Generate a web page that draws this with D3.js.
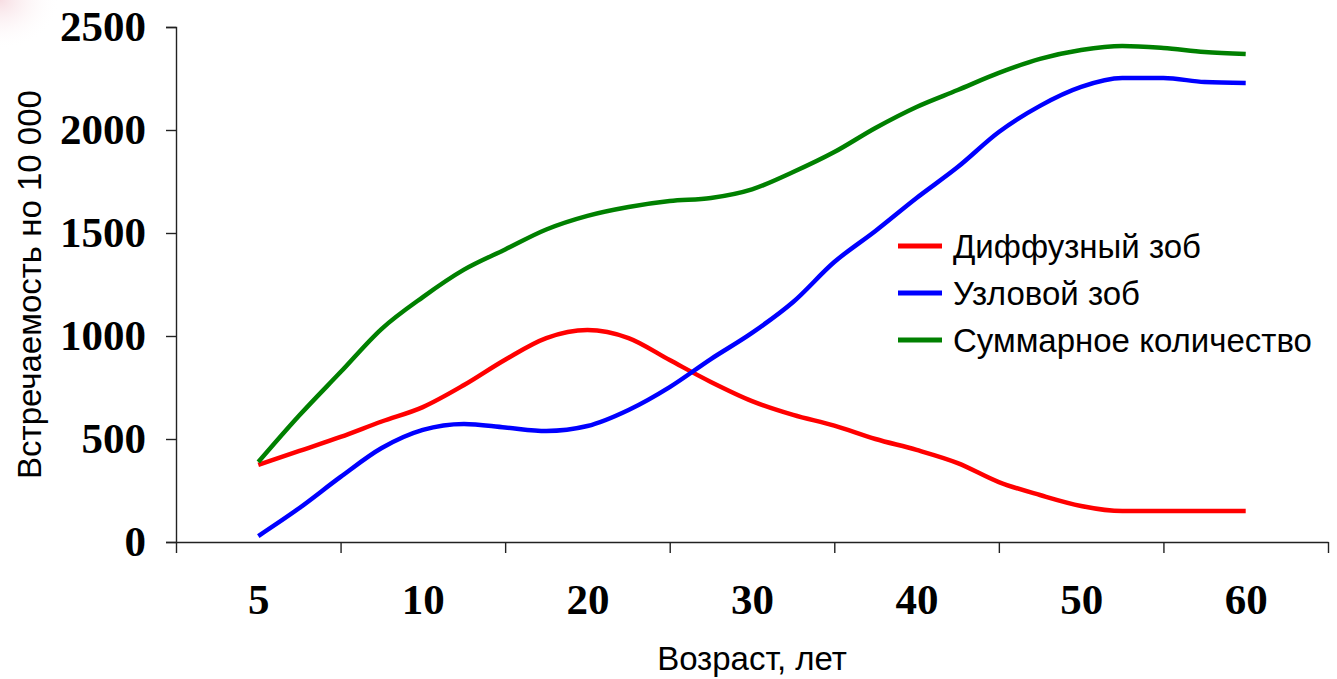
<!DOCTYPE html>
<html>
<head>
<meta charset="utf-8">
<script src="https://cdn.jsdelivr.net/npm/d3@7"></script>
<style>
  html, body { margin: 0; padding: 0; background: #fff; }
  svg { display: block; }
</style>
</head>
<body>
<svg id="chart" width="1337" height="679"></svg>
<script>
// ---- Data ----
const ageLabels = ["5", "10", "20", "30", "40", "50", "60"];
const seriesNames = ["Диффузный зоб", "Узловой зоб", "Суммарное количество"];
const diffuse = [374, 442, 510, 585, 655, 762, 885, 990, 1029, 990, 883, 777, 684,
                 617, 565, 500, 447, 383, 291, 228, 175, 150, 150, 150, 150];
const nodular = [29, 165, 316, 456, 544, 573, 556, 539, 563, 641, 752, 888, 1015,
                 1165, 1359, 1510, 1670, 1820, 1990, 2117, 2209, 2252, 2252, 2233, 2228];
const total = [388, 615, 825, 1035, 1189, 1322, 1420, 1517, 1583, 1626, 1655, 1670, 1712,
               1796, 1893, 2010, 2112, 2194, 2277, 2345, 2388, 2408, 2398, 2379, 2369];
const yTicks = [0, 500, 1000, 1500, 2000, 2500];
const colors = ["#FF0000", "#0000FF", "#008000"];

const svg = d3.select("#chart");
const pLeft = 176, pRight = 1328, pTop = 27, pBottom = 542;
const stepsPerLabel = 4;
const nPts = diffuse.length;
const serif = "'Liberation Serif', 'Times New Roman', serif";
const sans = "'Liberation Sans', Arial, sans-serif";

// index domain: half a label interval padding each side
const x = d3.scaleLinear()
  .domain([-stepsPerLabel / 2, (nPts - 1) + stepsPerLabel / 2])
  .range([pLeft, pRight]);
const y = d3.scaleLinear().domain([0, 2500]).range([pBottom, pTop]);

// top-left faint pink glow (slide background)
const defs = svg.append("defs");
const rg = defs.append("radialGradient").attr("id", "glow").attr("cx", "0").attr("cy", "0").attr("r", "1");
rg.append("stop").attr("offset", "0").attr("stop-color", "#f6d9df").attr("stop-opacity", 0.9);
rg.append("stop").attr("offset", "1").attr("stop-color", "#ffffff").attr("stop-opacity", 0);
svg.append("rect").attr("x", 0).attr("y", 0).attr("width", 60).attr("height", 50).attr("fill", "url(#glow)");

// Y axis
const yAxis = svg.append("g")
  .attr("transform", `translate(${pLeft},0)`)
  .call(d3.axisLeft(y).tickValues(yTicks).tickSize(10).tickPadding(20).tickFormat(d3.format("d")));
yAxis.select(".domain").attr("stroke", "#222").attr("stroke-width", 1.4);
yAxis.selectAll(".tick line").attr("stroke", "#222").attr("stroke-width", 1.4);
yAxis.selectAll(".tick text")
  .attr("fill", "#000")
  .style("font-family", serif)
  .style("font-weight", "bold")
  .style("font-size", "43px");

// X axis: tick marks between labels
const tickIdx = d3.range(-stepsPerLabel / 2, nPts + stepsPerLabel / 2, stepsPerLabel);
const xAxis = svg.append("g")
  .attr("transform", `translate(0,${pBottom})`)
  .call(d3.axisBottom(x).tickValues(tickIdx).tickSize(11).tickSizeOuter(0).tickFormat(""));
xAxis.select(".domain").attr("stroke", "#222").attr("stroke-width", 1.4);
xAxis.selectAll(".tick line").attr("stroke", "#222").attr("stroke-width", 1.4);

// X labels at every 4th data point
const labelIdx = ageLabels.map((d, i) => i * stepsPerLabel);
const xLab = svg.append("g")
  .attr("transform", `translate(0,${pBottom})`)
  .call(d3.axisBottom(x).tickValues(labelIdx).tickSize(0).tickPadding(41)
    .tickFormat((d) => ageLabels[d / stepsPerLabel]));
xLab.select(".domain").remove();
xLab.selectAll(".tick text")
  .attr("fill", "#000")
  .style("font-family", serif)
  .style("font-weight", "bold")
  .style("font-size", "43px");

// Axis titles
svg.append("text")
  .attr("x", 752).attr("y", 670)
  .attr("text-anchor", "middle")
  .style("font-family", sans)
  .style("font-size", "33px")
  .text("Возраст, лет");

svg.append("text")
  .attr("transform", `translate(41,${(pTop + pBottom) / 2}) rotate(-90)`)
  .attr("text-anchor", "middle")
  .style("font-family", sans)
  .style("font-size", "33px")
  .text("Встречаемость но 10 000");

// Lines
const line = d3.line()
  .x((d, i) => x(i))
  .y((d) => y(d))
  .curve(d3.curveMonotoneX);

[diffuse, nodular, total].forEach((s, k) => {
  svg.append("path")
    .datum(s)
    .attr("fill", "none")
    .attr("stroke", colors[k])
    .attr("stroke-width", 4.5)
    .attr("stroke-linejoin", "round")
    .attr("d", line);
});

// Legend
const legend = svg.append("g").attr("transform", "translate(898,246)");
seriesNames.forEach((name, k) => {
  const g = legend.append("g").attr("transform", `translate(0,${k * 47})`);
  g.append("line").attr("x1", 0).attr("x2", 44).attr("y1", 0).attr("y2", 0)
    .attr("stroke", colors[k]).attr("stroke-width", 5);
  g.append("text").attr("x", 55).attr("y", 0).attr("dy", "0.35em")
    .style("font-family", sans)
    .style("font-size", "33px")
    .text(name);
});
</script>
</body>
</html>
